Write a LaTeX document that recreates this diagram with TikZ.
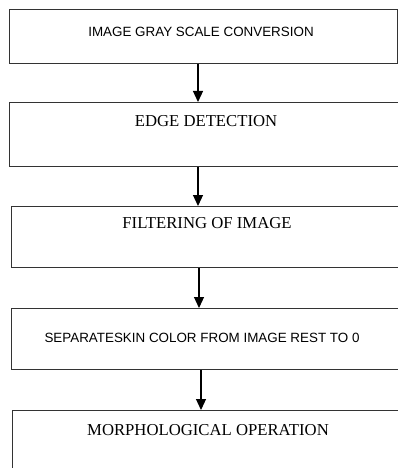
\documentclass[tikz,border=0pt]{standalone}
\usepackage{fontspec}
\setmainfont{Liberation Serif}
\setsansfont{Liberation Sans}
\usetikzlibrary{positioning,arrows.meta}

\begin{document}
\begin{tikzpicture}[x=1pt, y=-1pt,
    stage/.style={draw=black!80, line width=1.3pt, rectangle, anchor=north west, inner sep=0pt, minimum width=420pt},
    sanslabel/.style={font=\fontsize{13.4}{16}\sffamily},
    seriflabel/.style={font=\fontsize{16.7}{20}\selectfont},
    flow/.style={line width=1.2pt, -{Triangle[width=10pt, length=11pt]}}]
    \clip (0,0) rectangle (398,468);

    % Stages
    \node[stage, minimum width=388pt, minimum height=54pt] (gray) at (9,9) {};
    \node[stage, minimum height=64pt] (edge) at (9,102) {};
    \node[stage, minimum height=61pt] (filter) at (11,206) {};
    \node[stage, minimum height=61pt] (skin) at (11,308) {};
    \node[stage, minimum height=80pt] (morph) at (12,410) {};

    % Labels
    \node[sanslabel] (graytext) at (201,32) {IMAGE GRAY SCALE CONVERSION};
    \node[seriflabel] (edgetext) at (206,121) {EDGE DETECTION};
    \node[seriflabel] (filtertext) at (207,223) {FILTERING OF IMAGE};
    \node[sanslabel] (skintext) at (202,338) {SEPARATESKIN COLOR FROM IMAGE REST TO 0};
    \node[seriflabel] (morphtext) at (208,430) {MORPHOLOGICAL OPERATION};

    % Flow
    \coordinate (x1) at (198,0);
    \coordinate (x2) at (198,0);
    \coordinate (x3) at (199,0);
    \coordinate (x4) at (201,0);
    \draw[flow] (gray.south -| x1) -- (edge.north -| x1);
    \draw[flow] (edge.south -| x2) -- (filter.north -| x2);
    \draw[flow] (filter.south -| x3) -- (skin.north -| x3);
    \draw[flow] (skin.south -| x4) -- (morph.north -| x4);
\end{tikzpicture}
\end{document}
